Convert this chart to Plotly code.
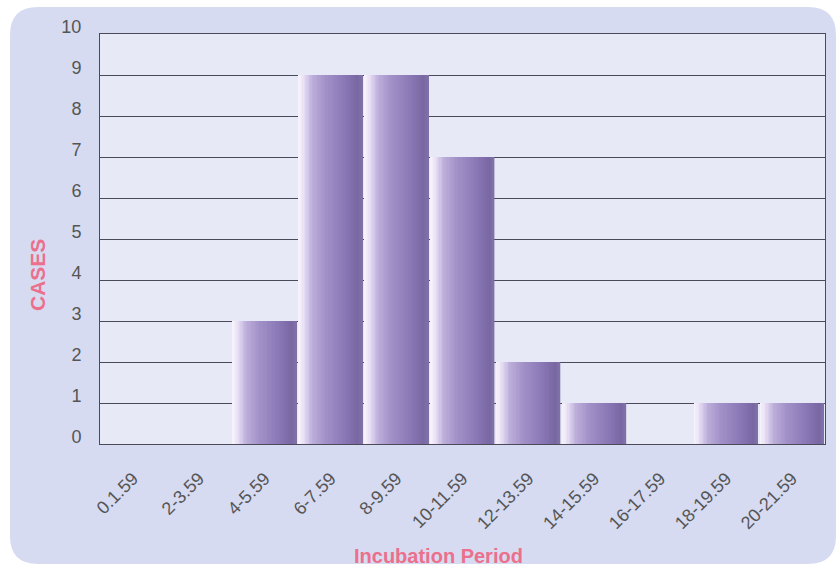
import plotly.graph_objects as go

categories = ["0.1.59", "2-3.59", "4-5.59", "6-7.59", "8-9.59", "10-11.59",
              "12-13.59", "14-15.59", "16-17.59", "18-19.59", "20-21.59"]
cases = [0, 0, 3, 9, 9, 7, 2, 1, 0, 1, 1]
y_ticks = list(range(0, 11))

W, H = 840, 569
L, R, T, B = 100, 15, 34, 125
pw, ph = W - L - R, H - T - B

def px2paper(px, py):
    return (px - L) / pw, (H - B - py) / ph

def lerp(c1, c2, t):
    return tuple(round(a + (b - a) * t) for a, b in zip(c1, c2))

stops = [(0.0, (248, 245, 252)), (0.07, (236, 228, 246)), (0.22, (188, 174, 218)),
         (0.42, (162, 145, 200)), (0.75, (136, 118, 180)), (0.93, (120, 103, 162)),
         (1.0, (128, 114, 168))]

def grad(t):
    for (t0, c0), (t1, c1) in zip(stops, stops[1:]):
        if t <= t1:
            return lerp(c0, c1, (t - t0) / (t1 - t0))
    return stops[-1][1]

xs = list(range(len(categories)))
bar_w = 0.965
N = 48
fig = go.Figure()
for i in range(N):
    c = grad((i + 0.5) / N)
    fig.add_trace(go.Bar(
        x=xs, y=cases, width=bar_w / N * 1.05,
        offset=-bar_w / 2 + i * bar_w / N,
        marker=dict(color="rgb(%d,%d,%d)" % c, line=dict(width=0)),
        showlegend=False, hoverinfo="skip"))

def P(px, py):
    a, b = px2paper(px, py)
    return f"{a:.5f},{b:.5f}"

def rrect(x0, y0, x1, y1, r):
    return (f"M {P(x0 + r, y0)} L {P(x1 - r, y0)} Q {P(x1, y0)} {P(x1, y0 + r)} "
            f"L {P(x1, y1 - r)} Q {P(x1, y1)} {P(x1 - r, y1)} L {P(x0 + r, y1)} "
            f"Q {P(x0, y1)} {P(x0, y1 - r)} L {P(x0, y0 + r)} Q {P(x0, y0)} {P(x0 + r, y0)} Z")

shapes = [
    dict(type="path", path=rrect(10, 7, 836, 564, 28), xref="paper", yref="paper",
         fillcolor="#d6dbf1", line=dict(width=0), layer="below"),
    dict(type="rect", x0=0, x1=1, y0=0, y1=1, xref="paper", yref="paper",
         fillcolor="#e7e9f7", line=dict(width=0), layer="below"),
]

fig.update_layout(
    width=W, height=H,
    margin=dict(l=L, r=R, t=T, b=B),
    paper_bgcolor="white",
    plot_bgcolor="rgba(0,0,0,0)",
    barmode="overlay",
    shapes=shapes,
    xaxis=dict(range=[-0.5, 10.5], tickvals=xs, ticktext=categories,
               tickangle=-45, showgrid=False, zeroline=False,
               tickfont=dict(family="Liberation Sans, Arial", size=18, color="#555555"),
               ticklabelstandoff=16, ticks="", showline=True, linecolor="#4a4a5a",
               mirror=True),
    yaxis=dict(range=[0, 10], tickvals=y_ticks, showgrid=True, gridcolor="#4a4a5a",
               gridwidth=1, zeroline=False, ticks="", ticklabelstandoff=14,
               tickfont=dict(family="Liberation Sans, Arial", size=18, color="#555555"),
               ticklabelshift=-7, showline=True, linecolor="#4a4a5a", mirror=True),
    annotations=[
        dict(text="<b>CASES</b>", textangle=-90, x=px2paper(37, 275)[0], y=px2paper(37, 275)[1],
             xref="paper", yref="paper", xanchor="center", yanchor="middle", showarrow=False,
             font=dict(family="Liberation Sans, Arial", size=21, color="#ec6f8c")),
        dict(text="<b>Incubation Period</b>", x=px2paper(438, 556)[0], y=px2paper(438, 556)[1],
             xref="paper", yref="paper", xanchor="center", yanchor="middle", showarrow=False,
             font=dict(family="Liberation Sans, Arial", size=20, color="#ec6f8c")),
    ],
)
fig.write_html("out.html")
